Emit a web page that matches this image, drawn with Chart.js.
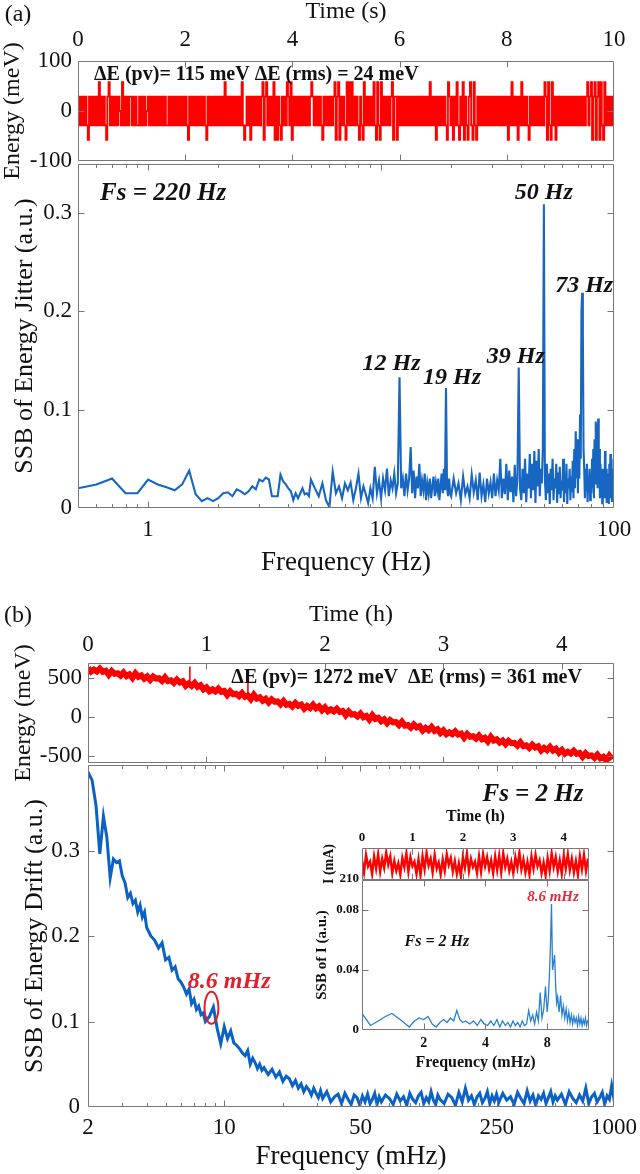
<!DOCTYPE html>
<html><head><meta charset="utf-8">
<script src="https://cdn.jsdelivr.net/npm/chart.js@4/dist/chart.umd.min.js"></script>
<style>
html,body{margin:0;padding:0;background:#fff;overflow:hidden;}
#wrap{position:relative;width:640px;height:1174px;overflow:hidden;background:#fff;}
#wrap canvas{position:absolute;}
</style></head>
<body><div id="wrap"></div>
<script>
// ================= DATA =================
// (a) top: energy jitter vs time (s); level codes, one sample per code
const jitterCodeRows = [
 "hlhlhlhlLh","lhlhlhlHlh","lhlLhHlhlh","lhlholHlhl",
 "hlhhlhlhll","hlhlhlohlh","lhlhlhlhlh","lhllhlhlhl",
 "hlhlhlhlhl","Lhlhlhlhlh","lhlhlLhlhl","hlhlhlhlhl",
 "Hlhlhlhlhl","hlhlHlLlhl","hLhlhlhlhl","hHLhHlhlhl",
 "HLhLhlLhlh","lHhlHLhlhl","hlhlhlhlhl","hHhlhlhlhl",
 "Lhlhlhlhlh","HLhHLhlhlL","HlHlHlhlhl","LhlLHlhlhl",
 "hlHlLHlLHl","hlhlhlhHLh","hLhlhlhlhl","hlhlhlhlhl",
 "hlhlhlhlHl","hlhLhlhlhl","hlLHhlhLhl","HlLhlHLhlL",
 "hHlLHlLhlh","lhlhlhlhlh","lhlhlhlhlh","lhLhlHlhlh",
 "LhlHlhlhlL","hlhlhlhlhl","hlHhLHlLHl","hLhlhlhlhl",
 "hlhlhlhlhl","hlhlhlhHlh","HLhHLhHLHl","LHlhlhlhlh"
];
const jitterLevels = {H: 57.5, h: 28.75, o: 0, l: -28.75, L: -57.5};
const jitterDuration = 10;

// (a) bottom: SSB of energy jitter vs frequency (Hz)
const jitterLowStart = 0.5, jitterLowStep = 0.1;
const jitterSSBLow = [
 0.020,0.024,0.030,0.015,0.015,0.029,0.024,0.021,0.018,0.024,
 0.038,0.014,0.007,0.010,0.007,0.010,0.015,0.016,0.012,0.019,
 0.017,0.014,0.017,0.022,0.019,0.029,0.027,0.031,0.029,0.012,
 0.012,0.012,0.034,0.027,0.024,0.020,0.017,0.008,0.015,0.010,
 0.015,0.020,0.014,0.015,0.012,0.029];
const jitterMidStart = 5.2, jitterMidStep = 0.2;
const jitterSSBMid = [
 0.020,0.012,0.025,0.008,0.001,0.037,0.015,0.022,0.010,0.025,
 0.018,0.026,0.008,0.020,0.035,0.010,0.022,0.014,0.005,0.020,
 0.010,0.042,0.015,0.028,0.010,0.030,0.018,0.040,0.012,0.028,
 0.020,0.035,0.015,0.025,0.133,0.020,0.030,0.012,0.035,0.018,
 0.030,0.062,0.015,0.038,0.010,0.032,0.020,0.045,0.012,0.028,
 0.018,0.035,0.008,0.025,0.015,0.030,0.010,0.022,0.032,0.012,
 0.026,0.018,0.030,0.008,0.022,0.035,0.015,0.040,0.018,0.122,
 0.020,0.012,0.030,0.015];
const jitterHighStart = 20, jitterHighStep = 0.5;
const jitterSSBHigh = [
 0.012,0.030,0.015,0.025,0.008,0.032,0.014,0.022,0.010,0.034,
 0.016,0.028,0.008,0.036,0.012,0.024,0.006,0.030,0.015,0.026,
 0.010,0.035,0.012,0.028,0.018,0.050,0.010,0.030,0.014,0.045,
 0.008,0.038,0.016,0.032,0.006,0.044,0.012,0.030,0.143,0.020,
 0.008,0.040,0.015,0.050,0.006,0.035,0.020,0.055,0.010,0.045,
 0.018,0.058,0.005,0.048,0.022,0.060,0.012,0.040,0.025,0.062,
 0.309,0.030,0.008,0.045,0.015,0.035,0.004,0.040,0.018,0.050,
 0.008,0.030,0.020,0.045,0.005,0.036,0.014,0.042,0.010,0.028,
 0.018,0.050,0.006,0.035,0.015,0.045,0.004,0.030,0.020,0.040,
 0.008,0.032,0.016,0.048,0.010,0.060,0.020,0.078,0.030,0.070,
 0.015,0.065,0.030,0.095,0.050,0.200,0.219,0.178,0.060,0.040,
 0.010,0.035,0.018,0.045,0.006,0.030,0.020,0.040,0.008,0.035,
 0.015,0.050,0.020,0.060,0.010,0.070,0.025,0.088,0.030,0.085,
 0.020,0.091,0.030,0.060,0.010,0.045,0.020,0.035,0.005,0.040,
 0.015,0.030,0.010,0.058,0.020,0.040,0.005,0.035,0.012,0.030,
 0.004,0.045,0.015,0.055,0.010,0.030,0.006,0.040,0.012,0.050,
 0.010];
const jitterPeakFreqs = [12, 19, 39, 50, 73];
const jitterPeakValues = [0.133, 0.122, 0.143, 0.309, 0.219];

// (b) top: energy drift vs time (h)
const driftTimeStep = 0.025;
const driftEnergy = [
 628,579,605,581,618,578,590,539,587,551,
 558,528,569,523,544,499,559,514,531,490,
 518,473,516,489,495,460,506,458,468,434,
 478,440,456,397,428,396,435,384,405,352,
 378,328,352,327,363,322,333,280,327,289,
 296,265,304,256,273,226,284,235,250,206,
 231,184,224,194,198,160,203,155,166,133,
 178,141,158,105,140,113,156,110,135,86,
 123,73,96,71,106,65,75,22,69,30,
 36,5,44,-5,13,-35,23,-26,-12,-56,
 -31,-79,-39,-69,-66,-104,-61,-111,-103,-138,
 -95,-134,-119,-174,-141,-170,-129,-178,-156,-207,
 -172,-221,-196,-221,-185,-225,-213,-266,-218,-255,
 -248,-279,-239,-286,-267,-314,-255,-302,-286,-329,
 -303,-349,-307,-337,-332,-368,-324,-373,-363,-397,
 -354,-392,-376,-430,-397,-425,-383,-431,-408,-458,
 -422,-471,-446,-469,-433,-473,-461,-512,-464,-501,
 -494,-524,-483,-530,-511,-556,-497,-544];
const driftSpikeTimes = [0.86, 1.35];
const driftSpikeBase = [430, 268];
const driftSpikeTop = [645, 465];

// (b) bottom: SSB of energy drift vs frequency (mHz), 20 bins per octave
const driftOctaveStarts = [2, 4, 8, 16, 32, 64, 128, 256, 512];
const driftBinsPerOctave = 20;
const driftLastFreq = 1000;
const driftSSB = [
 .392,.382,.352,.296,.340,.315,.268,.290,.286,.288,.270,.262,.245,.250,.238,.242,.228,.236,.222,.228,
 .210,.200,.195,.186,.192,.172,.175,.160,.164,.150,.146,.140,.132,.138,.121,.126,.114,.118,.108,.110,
 .100,.106,.117,.092,.074,.094,.080,.089,.075,.072,.068,.063,.060,.066,.050,.057,.052,.045,.050,.043,
 .046,.038,.044,.035,.041,.030,.036,.033,.025,.031,.022,.027,.018,.024,.020,.014,.022,.016,.011,.019,
 .010,.018,.006,.012,.015,.004,.016,.009,.003,.014,.011,.002,.013,.006,.015,.004,.009,.016,.003,.012,
 .006,.014,.010,.003,.015,.007,.012,.002,.016,.009,.005,.013,.017,.004,.011,.006,.018,.008,.003,.014,
 .009,.004,.015,.011,.002,.017,.006,.022,.008,.013,.003,.012,.016,.005,.010,.018,.004,.013,.007,.015,
 .005,.016,.008,.012,.003,.017,.010,.004,.019,.007,.014,.002,.013,.009,.016,.004,.011,.018,.006,.013,
 .008,.015,.003,.018,.010,.005,.014,.007,.022,.004,.012,.016,.006,.011,.017,.003,.013,.009,.025,.010,
 .014];

// inset top: current I (mA) vs time (h)
const currentTimeStep = 0.04;
const currentI = [
 212.4,210.8,213.1,211.6,212.2,210.6,212.9,211.3,213.2,210.9,
 212.6,211.4,213.4,211.8,212.9,210.7,212.3,211.0,212.0,210.5,
 212.7,211.5,213.3,210.9,212.8,211.6,212.2,210.6,212.5,210.4,
 212.9,211.2,213.4,211.7,212.6,210.8,213.1,211.3,212.1,210.5,
 212.5,211.0,213.2,211.8,212.7,210.9,212.3,210.6,212.0,210.3,
 212.8,211.4,213.3,211.0,212.6,211.5,212.2,210.7,212.9,210.9,
 213.2,211.6,212.8,211.2,212.4,210.7,212.9,211.1,213.0,210.8,
 213.3,211.5,212.6,211.0,212.2,210.6,212.8,211.4,213.4,211.2,
 212.5,210.8,212.2,210.5,212.9,211.3,213.1,211.6,212.4,210.7,
 212.1,210.4,212.7,211.0,213.3,211.5,212.8,210.9,212.4,210.6,
 213.0,211.3,213.2,211.1,212.6,210.8,212.3,210.5,212.9,211.2,
 213.1,211.0,212.6];

// inset bottom: SSB of I vs frequency (mHz)
const insetFreq = [
 1.0,1.1,1.2,1.3,1.4,1.5,1.6,1.7,1.8,1.9,
 2.0,2.1,2.2,2.3,2.4,2.5,2.6,2.7,2.8,2.9,
 3.0,3.1,3.2,3.35,3.5,3.65,3.8,3.95,4.1,4.25,
 4.4,4.55,4.7,4.85,5.0,5.15,5.3,5.45,5.6,5.75,
 5.9,6.05,6.2,6.35,6.5,6.65,6.8,6.95,7.1,7.25,
 7.4,7.55,7.7,7.85,8.0,8.1,8.2,8.3,8.4,8.5,
 8.6,8.7,8.8,8.9,9.0,9.15,9.3,9.45,9.6,9.75,
 9.9,10.05,10.2,10.35,10.5,10.65,10.8,10.95,11.1,11.25,
 11.4,11.55,11.7,11.85,12.0,12.15,12.3,12.45,12.6,12.75];
const insetSSB = [
 .011,.003,.006,.009,.011,.008,.005,.002,.006,.008,
 .007,.009,.004,.002,.005,.007,.005,.008,.006,.013,
 .007,.005,.006,.004,.006,.003,.007,.004,.003,.006,
 .003,.007,.002,.006,.003,.005,.002,.006,.003,.005,
 .002,.006,.003,.004,.013,.006,.010,.004,.012,.006,
 .025,.008,.014,.029,.012,.020,.035,.056,.084,.040,
 .045,.050,.030,.018,.022,.012,.023,.010,.016,.008,
 .014,.006,.012,.005,.010,.004,.009,.005,.008,.003,
 .009,.004,.008,.003,.007,.004,.008,.003,.006,.005];

// tick values
const timeTicksA = [0,2,4,6,8,10];
const energyTicksA = [-100,0,100];
const freqTicksA = [1,10,100];
const freqMinorA = [0.6,0.7,0.8,0.9,2,3,4,5,6,7,8,9,20,30,40,50,60,70,80,90];
const ssbTicksA = [0,0.1,0.2,0.3];
const timeTicksB = [0,1,2,3,4];
const energyTicksB = [-500,0,500];
const freqTicksB = [2,10,50,250,1000];
const freqMinorB = [3,4,5,6,7,8,9,20,30,40,60,70,80,90,100,200,300,400,500,600,700,800,900];
const ssbTicksB = [0,0.1,0.2,0.3];
const insetTimeTicks = [0,1,2,3,4];
const insetCurrentTicks = [210];
const insetFreqTicks = [2,4,8];
const insetSSBTicks = [0,0.04,0.08];

// ================= BUILD SERIES =================
const jitterCodes = jitterCodeRows.join('');
const jitterSeries = jitterCodes.split('').map((c, i) => ({x: i * jitterDuration / (jitterCodes.length - 1), y: jitterLevels[c]}));

function binSeries(start, step, vals) {
  return vals.map((v, i) => ({x: Math.round((start + i * step) * 1000) / 1000, y: v}));
}
const jitterSpectrum = binSeries(jitterLowStart, jitterLowStep, jitterSSBLow)
  .concat(binSeries(jitterMidStart, jitterMidStep, jitterSSBMid))
  .concat(binSeries(jitterHighStart, jitterHighStep, jitterSSBHigh));

const driftSeries = driftEnergy.map((v, i) => ({x: i * driftTimeStep, y: v}));
const driftSpikes = [];
driftSpikeTimes.forEach((t, i) => {
  driftSpikes.push({x: t, y: driftSpikeBase[i]}, {x: t, y: driftSpikeTop[i]}, {x: t, y: null});
});
const driftFreq = [];
driftOctaveStarts.forEach(s => { for (let i = 0; i < driftBinsPerOctave; i++) driftFreq.push(s * (1 + i / driftBinsPerOctave)); });
driftFreq.push(driftLastFreq);
const driftSpectrum = driftSSB.map((v, i) => ({x: driftFreq[i], y: v}));

const currentSeries = currentI.map((v, i) => ({x: i * currentTimeStep, y: v}));
const insetSpectrum = insetSSB.map((v, i) => ({x: insetFreq[i], y: v}));

// ================= PLUGINS =================
const SERIF = "'Liberation Serif','Times New Roman',serif";
Chart.defaults.font.family = SERIF;
Chart.defaults.color = '#111';
const NOTES = {};
const F = (size, weight, lh) => { const f = {family: SERIF, size: size}; if (weight) f.weight = weight; if (lh) f.lineHeight = lh; return f; };

const framePlugin = {
  id: 'frame',
  afterDatasetsDraw(chart) {
    const {ctx, chartArea: a, scales: {x, y}} = chart;
    ctx.save();
    ctx.strokeStyle = '#777'; ctx.lineWidth = 1;
    const L = a.left + 0.5, R = a.right - 0.5, T = a.top + 0.5, B = a.bottom - 0.5;
    ctx.beginPath();
    ctx.rect(L, T, R - L, B - T);
    x.ticks.forEach(t => {
      const p = Math.round(x.getPixelForValue(t.value)) + 0.5;
      if (p <= L + 1 || p >= R - 1) return;
      const len = t.label ? 6 : 3.5;
      ctx.moveTo(p, T); ctx.lineTo(p, T + len);
      ctx.moveTo(p, B); ctx.lineTo(p, B - len);
    });
    y.ticks.forEach(t => {
      const p = Math.round(y.getPixelForValue(t.value)) + 0.5;
      if (p <= T + 1 || p >= B - 1) return;
      const len = t.label ? 6 : 3.5;
      ctx.moveTo(L, p); ctx.lineTo(L + len, p);
      ctx.moveTo(R, p); ctx.lineTo(R - len, p);
    });
    ctx.stroke();
    ctx.restore();
  }
};
const notesPlugin = {
  id: 'notes',
  afterDraw(chart) {
    const items = NOTES[chart.canvas.id] || [];
    const {ctx, scales: {x, y}} = chart;
    ctx.save();
    items.forEach(n => {
      const px = n.px !== undefined ? n.px : x.getPixelForValue(n.x) + (n.dx || 0);
      const py = n.py !== undefined ? n.py : y.getPixelForValue(n.y) + (n.dy || 0);
      if (n.ellipse) {
        ctx.beginPath(); ctx.strokeStyle = n.color; ctx.lineWidth = n.lineWidth || 2;
        ctx.ellipse(px, py, n.rx, n.ry, 0, 0, Math.PI * 2); ctx.stroke();
        return;
      }
      ctx.font = n.font; ctx.fillStyle = n.color || '#111';
      ctx.textAlign = n.align || 'center'; ctx.textBaseline = 'middle';
      ctx.fillText(n.text, px, py);
    });
    ctx.restore();
  }
};
Chart.register(framePlugin, notesPlugin);

// ================= HELPERS =================
const wrap = document.getElementById('wrap');
function makeCanvas(id, left, top, w, h) {
  const c = document.createElement('canvas');
  c.id = id; c.width = w; c.height = h;
  c.style.left = left + 'px'; c.style.top = top + 'px';
  c.style.width = w + 'px'; c.style.height = h + 'px';
  wrap.appendChild(c);
  return c;
}
function axis(o) {
  const all = o.major.concat(o.minor || []).slice().sort((a, b) => a - b);
  return {
    type: o.type || 'linear', position: o.position, min: o.min, max: o.max,
    afterBuildTicks: s => { s.ticks = all.map(v => ({value: v})); },
    afterFit: s => {
      if (s.isHorizontal()) s.height = o.size; else s.width = o.size;
      s.paddingTop = 0; s.paddingBottom = 0; s.paddingLeft = 0; s.paddingRight = 0;
    },
    grid: {display: false, drawTicks: false},
    border: {display: false},
    ticks: {padding: o.pad, font: o.font, color: '#111', autoSkip: false, maxRotation: 0, minRotation: 0,
      callback: v => (o.major.includes(v) ? String(v) : '')},
    title: {display: true, text: o.title, font: o.titleFont, color: '#111', padding: o.titlePad}
  };
}
function makeChart(canvas, datasets, padding, xAxis, yAxis) {
  return new Chart(canvas, {
    type: 'line',
    data: {datasets: datasets.map(d => Object.assign({pointRadius: 0, fill: false, tension: 0, spanGaps: false}, d))},
    options: {
      responsive: false, animation: false, events: [],
      font: {family: SERIF},
      layout: {padding: padding},
      plugins: {legend: {display: false}, tooltip: {enabled: false}},
      scales: {x: xAxis, y: yAxis}
    }
  });
}
const tickFont = F(23);
const bigTitle = F(27, null, 1);
const midTitle = F(24, null, 1);
const BI = (s) => "italic bold " + s + "px " + SERIF;
const B = (s) => "bold " + s + "px " + SERIF;

// ================= (a) top =================
const cA1 = makeCanvas('a1', 0, 0, 640, 200);
NOTES.a1 = [
  {px: 18, py: 15, text: '(a)', font: "24px " + SERIF},
  {x: 0.30, y: 72, text: 'ΔE (pv)= 115 meV ΔE (rms) = 24 meV', font: B(20), align: 'left'}
];
makeChart(cA1, [{data: jitterSeries, borderColor: '#ff0000', borderWidth: 1.8, stepped: true}],
  {left: 0, right: 26, top: 0, bottom: 39},
  axis({position: 'top', min: 0, max: 10, major: timeTicksA, size: 61, pad: 7, font: tickFont,
        title: 'Time (s)', titleFont: midTitle, titlePad: {top: 0, bottom: 0}}),
  axis({position: 'left', min: -100, max: 100, major: energyTicksA, size: 78, pad: 6, font: tickFont,
        title: 'Energy (meV)', titleFont: midTitle, titlePad: {top: 1, bottom: 0}}));

// ================= (a) bottom =================
const cA2 = makeCanvas('a2', 0, 163, 640, 420);
NOTES.a2 = [
  {x: 0.622, y: 0.32, text: 'Fs = 220 Hz', font: BI(25), align: 'left'}
];
const peakOffsets = [[-8, -13], [6, -10], [-3, -11], [0, -12], [2, -7]];
jitterPeakFreqs.forEach((f, i) => {
  NOTES.a2.push({x: f, y: jitterPeakValues[i], dx: peakOffsets[i][0], dy: peakOffsets[i][1], text: f + ' Hz', font: BI(24)});
});
makeChart(cA2, [{data: jitterSpectrum, borderColor: '#1666c2', borderWidth: 2.1}],
  {left: 0, right: 26, top: 1, bottom: 0},
  axis({type: 'logarithmic', position: 'bottom', min: 0.5, max: 100, major: freqTicksA, minor: freqMinorA, size: 75, pad: 8,
        font: tickFont, title: 'Frequency (Hz)', titleFont: bigTitle, titlePad: {top: 0, bottom: 6.5}}),
  axis({position: 'left', min: 0, max: 0.35, major: ssbTicksA, size: 78, pad: 6, font: tickFont,
        title: 'SSB of Energy Jitter (a.u.)', titleFont: F(26, null, 1), titlePad: {top: 12, bottom: 0}}));

// ================= (b) top =================
const cB1 = makeCanvas('b1', 0, 583, 640, 220);
NOTES.b1 = [
  {px: 18, py: 33, text: '(b)', font: "24px " + SERIF},
  {x: 1.21, y: 500, text: 'ΔE (pv)= 1272 meV  ΔE (rms) = 361 meV', font: B(20), align: 'left'}
];
makeChart(cB1, [
    {data: driftSeries, borderColor: '#ff0000', borderWidth: 6},
    {data: driftSpikes, borderColor: '#ff0000', borderWidth: 1.6}
  ],
  {left: 0, right: 26, top: 0, bottom: 40},
  axis({position: 'top', min: 0, max: 4.44, major: timeTicksB, size: 80, pad: 4, font: tickFont,
        title: 'Time (h)', titleFont: midTitle, titlePad: {top: 20, bottom: 0}}),
  axis({position: 'left', min: -590, max: 690, major: energyTicksB, size: 88, pad: 6, font: tickFont,
        title: 'Energy (meV)', titleFont: midTitle, titlePad: {top: 12, bottom: 0}}));

// ================= (b) bottom =================
const cB2 = makeCanvas('b2', 0, 764, 640, 410);
NOTES.b2 = [
  {x: 384, y: 0.365, text: 'Fs = 2 Hz', font: BI(25)},
  {x: 10.6, y: 0.146, text: '8.6 mHz', font: BI(24), color: '#e0202c'},
  {x: 8.6, y: 0.116, ellipse: true, rx: 7, ry: 16, color: '#e0202c', lineWidth: 2}
];
makeChart(cB2, [{data: driftSpectrum, borderColor: '#0b62c4', borderWidth: 3}],
  {left: 0, right: 26, top: 1, bottom: 0},
  axis({type: 'logarithmic', position: 'bottom', min: 2, max: 1000, major: freqTicksB, minor: freqMinorB, size: 67, pad: 7,
        font: tickFont, title: 'Frequency (mHz)', titleFont: bigTitle, titlePad: {top: 0, bottom: 3.5}}),
  axis({position: 'left', min: 0, max: 0.4, major: ssbTicksB, size: 88, pad: 8, font: tickFont,
        title: 'SSB of Energy Drift (a.u.)', titleFont: F(26, null, 1), titlePad: {top: 22, bottom: 0}}));

// ================= inset top =================
const cC1 = makeCanvas('c1', 290, 800, 340, 92);
NOTES.c1 = [];
makeChart(cC1, [{data: currentSeries, borderColor: '#ff0000', borderWidth: 2.4}],
  {left: 0, right: 41, top: 0, bottom: 12},
  axis({position: 'top', min: 0, max: 4.5, major: insetTimeTicks, size: 48, pad: 3, font: F(13, 'bold'),
        title: 'Time (h)', titleFont: F(16, 'bold', 1), titlePad: {top: 9, bottom: 0}}),
  axis({position: 'left', min: 209.8, max: 214, major: insetCurrentTicks, size: 72, pad: 3, font: F(13, 'bold'),
        title: 'I (mA)', titleFont: F(14, 'bold', 1), titlePad: {top: 32, bottom: 0}}));

// ================= inset bottom =================
const cC2 = makeCanvas('c2', 280, 880, 350, 195);
NOTES.c2 = [
  {x: 8.54, y: 0.0887, text: '8.6 mHz', font: BI(15), color: '#e8283c'},
  {x: 2.32, y: 0.0587, text: 'Fs = 2 Hz', font: BI(16)}
];
makeChart(cC2, [{data: insetSpectrum, borderColor: '#2a80d0', borderWidth: 1.3}],
  {left: 0, right: 41, top: 0, bottom: 0},
  axis({type: 'logarithmic', position: 'bottom', min: 1, max: 12.8, major: insetFreqTicks, size: 45, pad: 5,
        font: F(14, 'bold'), title: 'Frequency (mHz)', titleFont: F(16, 'bold', 1),
        titlePad: {top: 0, bottom: 4}}),
  axis({position: 'left', min: 0, max: 0.1, major: insetSSBTicks, size: 82, pad: 3, font: F(13, 'bold'),
        title: 'SSB of I (a.u.)', titleFont: F(15, 'bold', 1), titlePad: {top: 34.5, bottom: 0}}));
</script>
</body></html>
